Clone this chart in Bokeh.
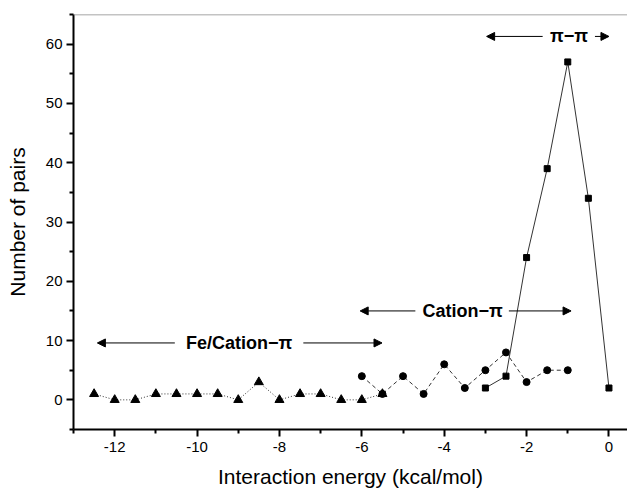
from bokeh.plotting import figure
from bokeh.models import Arrow, NormalHead, Label, Span, FixedTicker
from bokeh.embed import file_html
from bokeh.resources import INLINE

# Fe/Cation-pi series (triangles)
tri_x = [-12.5, -12, -11.5, -11, -10.5, -10, -9.5, -9, -8.5, -8, -7.5, -7, -6.5, -6, -5.5]
tri_y = [1, 0, 0, 1, 1, 1, 1, 0, 3, 0, 1, 1, 0, 0, 1]
# Cation-pi series (circles)
cir_x = [-6, -5.5, -5, -4.5, -4, -3.5, -3, -2.5, -2, -1.5, -1]
cir_y = [4, 1, 4, 1, 6, 2, 5, 8, 3, 5, 5]
# pi-pi series (squares)
sq_x = [-3, -2.5, -2, -1.5, -1, -0.5, 0]
sq_y = [2, 4, 24, 39, 57, 34, 2]

x_ticks = [-12, -10, -8, -6, -4, -2, 0]
x_tick_labels = ["-12", "-10", "-8", "-6", "-4", "-2", "0"]
x_minor = [-13, -11, -9, -7, -5, -3, -1]
y_ticks = [0, 10, 20, 30, 40, 50, 60]
y_tick_labels = ["0", "10", "20", "30", "40", "50", "60"]
y_minor = [-5, 5, 15, 25, 35, 45, 55, 65]

# annotations: label, text x, y, left arrow (tip, tail), right arrow (tail, tip)
ann_text = ["Fe/Cation\u2212\u03c0", "Cation\u2212\u03c0", "\u03c0\u2212\u03c0"]
ann_x = [-8.98, -3.55, -0.97]
ann_y = [9.6, 15.0, 61.3]
ann_left_tip = [-12.42, -6.04, -2.97]
ann_left_tail = [-10.54, -4.70, -1.61]
ann_right_tail = [-7.42, -2.43, -0.34]
ann_right_tip = [-5.51, -0.92, 0.0]

FONT = "Liberation Sans"

p = figure(width=627, height=492, output_backend="svg", toolbar_location=None,
           x_range=(-13, 0.45), y_range=(-5, 65),
           min_border_left=73, min_border_right=0, min_border_top=14, min_border_bottom=63)
p.outline_line_color = None
p.grid.visible = False
p.background_fill_color = "white"
p.border_fill_color = "white"

p.line(tri_x, tri_y, line_color="#333333", line_width=1, line_dash="1 2")
p.scatter(tri_x, tri_y, marker="triangle", size=9, color="black")
p.line(cir_x, cir_y, line_color="#333333", line_width=1, line_dash="4 3")
p.scatter(cir_x, cir_y, marker="circle", size=7, color="black")
p.line(sq_x, sq_y, line_color="#333333", line_width=1)
p.scatter(sq_x, sq_y, marker="square", size=6, color="black")

p.add_layout(Span(location=65, dimension="width", line_color="#888888", line_width=1.5))

for t, tx, ty, lt, ll, rl, rt in zip(ann_text, ann_x, ann_y, ann_left_tip, ann_left_tail,
                                      ann_right_tail, ann_right_tip):
    p.add_layout(Arrow(end=NormalHead(size=8, fill_color="black", line_color="black"),
                       x_start=ll, y_start=ty, x_end=lt, y_end=ty,
                       line_color="black", line_width=1))
    p.add_layout(Arrow(end=NormalHead(size=8, fill_color="black", line_color="black"),
                       x_start=rl, y_start=ty, x_end=rt, y_end=ty,
                       line_color="black", line_width=1))
    p.add_layout(Label(x=tx, y=ty, text=t, text_align="center", text_baseline="middle",
                       text_font=FONT, text_font_style="bold", text_font_size="18px",
                       text_color="black"))

for ax in (p.xaxis[0], p.yaxis[0]):
    ax.axis_line_width = 2
    ax.axis_line_color = "black"
    ax.major_tick_line_width = 2
    ax.minor_tick_line_width = 2
    ax.major_tick_in = 0
    ax.major_tick_out = 7
    ax.minor_tick_in = 0
    ax.minor_tick_out = 4
    ax.major_label_text_font = FONT
    ax.major_label_text_font_size = "15px"
    ax.major_label_text_color = "black"
    ax.axis_label_text_font = FONT
    ax.axis_label_text_font_size = "21px"
    ax.axis_label_text_font_style = "normal"
    ax.axis_label_text_color = "black"

p.xaxis[0].ticker = FixedTicker(ticks=x_ticks, minor_ticks=x_minor)
p.yaxis[0].ticker = FixedTicker(ticks=y_ticks, minor_ticks=y_minor)
p.xaxis[0].major_label_overrides = dict(zip(x_ticks, x_tick_labels))
p.yaxis[0].major_label_overrides = dict(zip(y_ticks, y_tick_labels))
p.xaxis.axis_label = "Interaction energy (kcal/mol)"
p.yaxis.axis_label = "Number of pairs"
p.xaxis.major_label_standoff = 5
p.yaxis.major_label_standoff = 4
p.xaxis.axis_label_standoff = 10
p.yaxis.axis_label_standoff = 14

open("out.html", "w").write(file_html(p, INLINE))
